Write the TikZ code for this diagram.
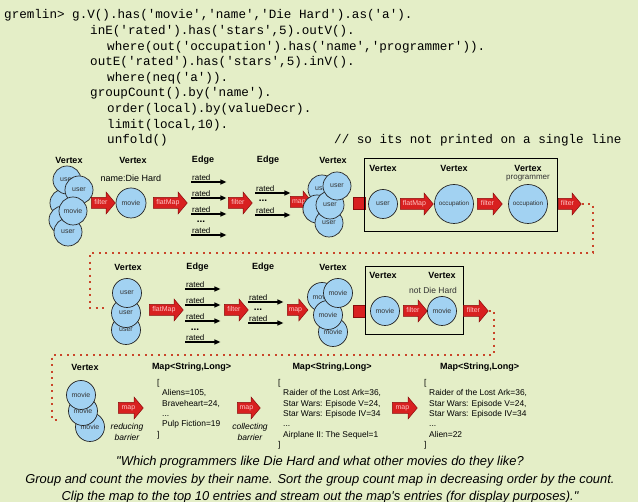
\documentclass[tikz,border=0pt]{standalone}
\usepackage{fontspec}
\setmainfont{Liberation Sans}[Ligatures=TeXOff]
\newfontfamily\codefont{Liberation Mono}
\usepackage{xcolor}
\usetikzlibrary{arrows.meta,positioning,shapes.arrows}
\definecolor{bggreen}{HTML}{E4EEC7}
\definecolor{vtxblue}{HTML}{A2D2F2}
\definecolor{opred}{HTML}{D82020}
\definecolor{opedge}{HTML}{8A0C0C}
\definecolor{optext}{HTML}{FFC4C4}
\definecolor{flowred}{HTML}{C9452A}
\definecolor{softgray}{HTML}{333333}
\tikzset{
    codeline/.style={
        font=\codefont\fontsize{12.6}{15}\selectfont,
        anchor=base west,
        inner sep=0pt
    },
    vertexnode/.style={
        circle,
        draw=black!85,
        line width=0.7pt,
        fill=vtxblue,
        inner sep=0pt,
        minimum size=28pt,
        text=softgray,
        font=\fontsize{7}{7}\selectfont
    },
    bigvertex/.style={
        vertexnode,
        minimum size=39pt,
        font=\fontsize{6.3}{6.3}\selectfont
    },
    headlabel/.style={
        font=\fontsize{9}{9}\selectfont\bfseries,
        inner sep=0pt
    },
    notelabel/.style={
        font=\fontsize{8.5}{8.5}\selectfont,
        text=softgray,
        inner sep=0pt
    },
    opshape/.style={
        single arrow,
        single arrow head extend=5.5pt,
        single arrow tip angle=100,
        fill=opred,
        draw=opedge,
        line width=0.5pt,
        inner xsep=1pt,
        inner ysep=2pt,
        text height=5pt,
        text depth=1.5pt,
        minimum height=24pt,
        anchor=tail,
        text=optext,
        font=\fontsize{7}{7}\selectfont
    },
    squarebox/.style={
        rectangle,
        fill=opred,
        draw=opedge,
        line width=0.5pt,
        inner sep=0pt,
        minimum width=12pt,
        minimum height=12pt
    },
    groupbox/.style={
        rectangle,
        draw=black,
        line width=1pt,
        inner sep=0pt
    },
    ratedlabel/.style={
        font=\fontsize{8}{8}\selectfont,
        anchor=south west,
        text width=33pt,
        align=left,
        inner xsep=1pt,
        inner ysep=1.5pt
    },
    dotslabel/.style={
        font=\fontsize{10}{10}\selectfont\bfseries,
        inner sep=0pt
    },
    edgearrow/.style={
        -{Triangle[length=6pt,width=5pt]},
        line width=1.3pt
    },
    flowline/.style={
        draw=flowred,
        line width=1.3pt,
        dash pattern=on 2pt off 4.5pt
    },
    maptext/.style={
        font=\fontsize{8.4}{10.4}\selectfont,
        align=left,
        anchor=north west,
        inner sep=0pt
    },
    barrierlabel/.style={
        font=\fontsize{8.5}{10.5}\selectfont\itshape,
        align=center,
        inner sep=0pt
    },
    captionline/.style={
        font=\fontsize{12.9}{14}\selectfont\itshape,
        anchor=base,
        inner sep=0pt
    }
}
\begin{document}
\begin{tikzpicture}[x=1pt,y=-1pt]
        \useasboundingbox (0,0) rectangle (638,502);
        \fill[bggreen] (0,0) rectangle (638,502);

        \node[codeline] (code1) at (4,19) {gremlin> g.V().has('movie','name','Die Hard').as('a').};
        \node[codeline] (code2) at (90,34.6) {inE('rated').has('stars',5).outV().};
        \node[codeline] (code3) at (107,50.2) {where(out('occupation').has('name','programmer')).};
        \node[codeline] (code4) at (90,65.8) {outE('rated').has('stars',5).inV().};
        \node[codeline] (code5) at (107,81.4) {where(neq('a')).};
        \node[codeline] (code6) at (90,97) {groupCount().by('name').};
        \node[codeline] (code7) at (107,112.6) {order(local).by(valueDecr).};
        \node[codeline] (code8) at (107,128.2) {limit(local,10).};
        \node[codeline] (code9) at (107,143.8) {unfold()};
        \node[codeline] (codenote) at (334,143.8) {// so its not printed on a single line};

        \node[headlabel] (hA1) at (69,160) {Vertex};
        \node[vertexnode] (va1) at (64,203) {};
        \node[vertexnode] (va2) at (63,220) {};
        \node[vertexnode] (va3) at (67,180) {user};
        \node[vertexnode] (va4) at (79,190) {user};
        \node[vertexnode] (va5) at (68,232) {user};
        \node[vertexnode] (va6) at (73,211) {movie};
        \node[opshape] (op1) at (91,203) {filter};

        \node[headlabel] (hA2) at (133,160) {Vertex};
        \node[vertexnode, minimum size=30pt] (dieHard) at (131,203) {movie};
        \node[notelabel, text=black, font=\fontsize{9}{9}\selectfont, above=6pt of dieHard] (dieHardName) {name:Die Hard};
        \node[opshape, minimum height=34pt] (op2) at (153,203) {flatMap};

        \node[headlabel] (hA3) at (203,160) {Edge};
        \node[ratedlabel] (ea1) at (191,182) {rated};
        \draw[edgearrow] (ea1.south west) -- (ea1.south east);
        \node[ratedlabel] (ea2) at (191,198) {rated};
        \draw[edgearrow] (ea2.south west) -- (ea2.south east);
        \node[ratedlabel] (ea3) at (191,214) {rated};
        \draw[edgearrow] (ea3.south west) -- (ea3.south east);
        \node[dotslabel] (dta) at (201,222) {...};
        \node[ratedlabel] (ea4) at (191,235) {rated};
        \draw[edgearrow] (ea4.south west) -- (ea4.south east);
        \node[opshape] (op3) at (228,203) {filter};

        \node[headlabel] (hA4) at (268,160) {Edge};
        \node[ratedlabel] (eb1) at (255,193) {rated};
        \draw[edgearrow] (eb1.south west) -- (eb1.south east);
        \node[dotslabel] (dtb) at (263,201) {...};
        \node[ratedlabel] (eb2) at (255,215) {rated};
        \draw[edgearrow] (eb2.south west) -- (eb2.south east);
        \node[opshape, minimum height=22pt] (op4) at (290,202) {map};

        \node[headlabel] (hA5) at (333,160) {Vertex};
        \node[vertexnode] (vb1) at (322,189) {user};
        \node[vertexnode] (vb2) at (317,209) {};
        \node[vertexnode] (vb3) at (329,223) {user};
        \node[vertexnode] (vb4) at (330,205) {user};
        \node[vertexnode] (vb5) at (337,186) {user};
        \node[squarebox] (sq1) at (359,203.5) {};

        \node[groupbox, minimum width=193pt, minimum height=73pt] (box1) at (460.5,195.5) {};
        \node[headlabel] (hB1) at (383,168) {Vertex};
        \node[headlabel] (hB2) at (454,168) {Vertex};
        \node[headlabel] (hB3) at (528,168) {Vertex};
        \node[notelabel, font=\fontsize{8}{8}\selectfont] (progName) at (528,178) {programmer};
        \node[vertexnode, minimum size=29pt] (userB) at (383,204) {user};
        \node[opshape, minimum height=33pt] (op5) at (400,204) {flatMap};
        \node[bigvertex] (occA) at (454,204) {occupation};
        \node[opshape, minimum height=25pt] (op6) at (477,204) {filter};
        \node[bigvertex] (occB) at (528,204) {occupation};
        \node[opshape, minimum height=23pt] (op7) at (558,204) {filter};

        \coordinate (fa) at (593,253);
        \coordinate (fb) at (90,253);
        \coordinate (fc) at (105,308);
        \draw[flowline] (op7.tip) -| (fa) -- (fb) |- (fc);

        \node[headlabel] (hC1) at (128,267) {Vertex};
        \node[vertexnode, minimum size=29pt] (vc3) at (126,330) {user};
        \node[vertexnode, minimum size=29pt] (vc2) at (126,313) {user};
        \node[vertexnode, minimum size=29pt] (vc1) at (127,293) {user};
        \node[opshape, minimum height=34pt] (op8) at (149,310) {flatMap};

        \node[headlabel] (hC2) at (197.5,267) {Edge};
        \node[ratedlabel] (ec1) at (185,289) {rated};
        \draw[edgearrow] (ec1.south west) -- (ec1.south east);
        \node[ratedlabel] (ec2) at (185,305) {rated};
        \draw[edgearrow] (ec2.south west) -- (ec2.south east);
        \node[ratedlabel] (ec3) at (185,321) {rated};
        \draw[edgearrow] (ec3.south west) -- (ec3.south east);
        \node[dotslabel] (dtc) at (195,330) {...};
        \node[ratedlabel] (ec4) at (185,342) {rated};
        \draw[edgearrow] (ec4.south west) -- (ec4.south east);
        \node[opshape] (op9) at (224,310) {filter};

        \node[headlabel] (hC3) at (263,267) {Edge};
        \node[ratedlabel] (ed1) at (248,302) {rated};
        \draw[edgearrow] (ed1.south west) -- (ed1.south east);
        \node[dotslabel] (dtd) at (258,310) {...};
        \node[ratedlabel] (ed2) at (248,323) {rated};
        \draw[edgearrow] (ed2.south west) -- (ed2.south east);
        \node[opshape, minimum height=20pt] (op10) at (287,310) {map};

        \node[headlabel] (hC4) at (333,267) {Vertex};
        \node[vertexnode, minimum size=29pt] (vd1) at (322,297) {movie};
        \node[vertexnode, minimum size=29pt] (vd2) at (333,332) {movie};
        \node[vertexnode, minimum size=29pt] (vd3) at (328,315) {movie};
        \node[vertexnode, minimum size=29pt] (vd4) at (338,293) {movie};
        \node[squarebox] (sq2) at (359.5,311) {};

        \node[groupbox, minimum width=98pt, minimum height=68pt] (box2) at (414,301) {};
        \node[headlabel] (hD1) at (383,275) {Vertex};
        \node[headlabel] (hD2) at (442,275) {Vertex};
        \node[notelabel] (notDieHard) at (433,290) {not Die Hard};
        \node[vertexnode, minimum size=29pt] (movieD1) at (385,311) {movie};
        \node[opshape] (op11) at (403,311) {filter};
        \node[vertexnode, minimum size=29pt] (movieD2) at (442,311) {movie};
        \node[opshape, minimum height=25pt] (op12) at (463,311) {filter};

        \coordinate (fd) at (494,355);
        \coordinate (fe) at (52,355);
        \coordinate (ff) at (60,420);
        \draw[flowline] (op12.tip) -| (fd) -- (fe) |- (ff);

        \node[headlabel] (hE1) at (85,367) {Vertex};
        \node[vertexnode, minimum size=29pt] (ve3) at (90,427) {movie};
        \node[vertexnode, minimum size=29pt] (ve2) at (83,411) {movie};
        \node[vertexnode, minimum size=29pt] (ve1) at (81,395) {movie};
        \node[opshape, minimum height=25pt] (op13) at (118,408) {map};
        \node[barrierlabel] (reduceNote) at (127,432) {reducing\\barrier};

        \node[headlabel] (hE2) at (191.5,367) {Map<String,Long>};
        \node[maptext] (mapA) at (157,379) {
            [\\
            \hspace*{5pt}Aliens=105,\\
            \hspace*{5pt}Braveheart=24,\\
            \hspace*{5pt}...\\
            \hspace*{5pt}Pulp Fiction=19\\
            ]
        };
        \node[opshape, minimum height=23pt] (op14) at (237,408) {map};
        \node[barrierlabel] (collectNote) at (250,432) {collecting\\barrier};

        \node[headlabel] (hE3) at (332,367) {Map<String,Long>};
        \node[maptext] (mapB) at (278,379) {
            [\\
            \hspace*{5pt}Raider of the Lost Ark=36,\\
            \hspace*{5pt}Star Wars: Episode V=24,\\
            \hspace*{5pt}Star Wars: Episode IV=34\\
            \hspace*{5pt}...\\
            \hspace*{5pt}Airplane II: The Sequel=1\\
            ]
        };
        \node[opshape, minimum height=25pt] (op15) at (392,408) {map};

        \node[headlabel] (hE4) at (479.5,367) {Map<String,Long>};
        \node[maptext] (mapC) at (424,379) {
            [\\
            \hspace*{5pt}Raider of the Lost Ark=36,\\
            \hspace*{5pt}Star Wars: Episode V=24,\\
            \hspace*{5pt}Star Wars: Episode IV=34\\
            \hspace*{5pt}...\\
            \hspace*{5pt}Alien=22\\
            ]
        };

        \node[captionline] (cap1) at (320,465.5) {"Which programmers like Die Hard and what other movies do they like?};
        \node[captionline] (cap2) at (320,483.5) {Group and count the movies by their name. Sort the group count map in decreasing order by the count.};
        \node[captionline] (cap3) at (320,500.5) {Clip the map to the top 10 entries and stream out the map's entries (for display purposes)."};
    \end{tikzpicture}
\end{document}
